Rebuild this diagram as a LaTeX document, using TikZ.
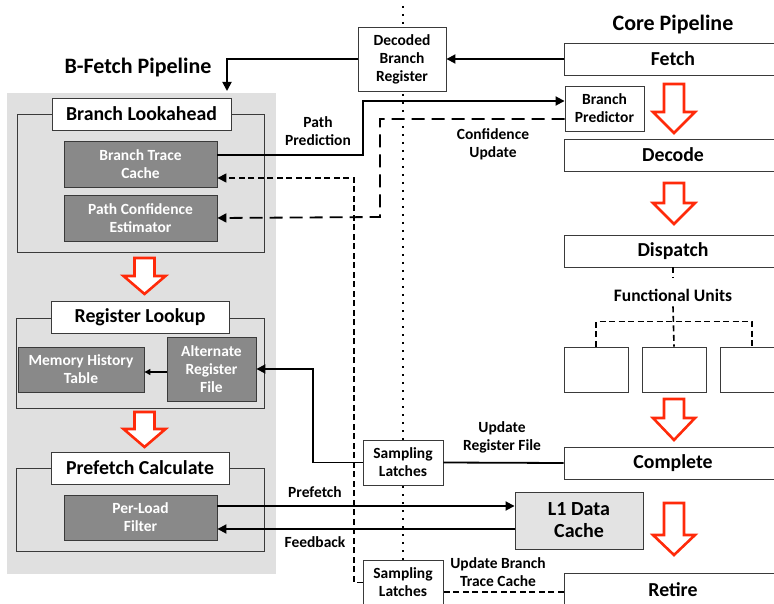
\documentclass[tikz,border=0pt]{standalone}
\usepackage{fontspec}
\setmainfont{Carlito}
\usetikzlibrary{arrows.meta,calc}

\definecolor{panelgray}{HTML}{E0E0E0}
\definecolor{darkfill}{HTML}{898989}
\definecolor{lightfill}{HTML}{E3E3E3}
\definecolor{boxline}{HTML}{3A3A3A}
\definecolor{flowred}{HTML}{FF2A0A}

% hollow block arrow: centre x, top y, head start y, tip y
\newcommand\hollowarrow[4]{%
  \draw[redarr] ({#1-10},#2) -- ({#1+10},#2) -- ({#1+10},#3) -- ({#1+21},#3)
    -- (#1,#4) -- ({#1-21},#3) -- ({#1-10},#3) -- cycle;}

\begin{document}
\begin{tikzpicture}[x=1pt,y=-1pt,
  titlefont/.style={font=\fontsize{22}{24}\selectfont\bfseries},
  bigfont/.style={font=\fontsize{19.8}{22}\selectfont\bfseries},
  midfont/.style={font=\fontsize{15.5}{18}\selectfont\bfseries},
  stagebox/.style={draw=boxline, line width=0.9pt, fill=white, inner sep=0pt,
    bigfont, text=black},
  smallbox/.style={draw=boxline, line width=0.9pt, fill=white, inner sep=0pt,
    midfont, align=center, text=black},
  frame/.style={draw=boxline, line width=0.9pt, inner sep=0pt},
  darkbox/.style={draw=boxline, line width=0.9pt, fill=darkfill, inner sep=0pt,
    midfont, align=center, text=white},
  lbl/.style={midfont, align=center, inner sep=0pt, text=black},
  conn/.style={line width=1.8pt, -{Triangle[length=9pt,width=9pt]}},
  plain/.style={line width=1.8pt},
  longdash/.style={line width=1.8pt, dash pattern=on 13pt off 7pt},
  shortdash/.style={line width=1.6pt, dash pattern=on 6pt off 3.5pt},
  redarr/.style={draw=flowred, fill=white, line width=2.6pt, line join=miter},
]
\useasboundingbox (0,0) rectangle (774,604);

% divider between the two pipelines
\draw[line width=2pt, dash pattern=on 2pt off 6pt] (403,6) -- (403,604);

% ---------------- B-Fetch pipeline ----------------
\node[titlefont] (btitle) at (138,68) {B-Fetch Pipeline};
\node[fill=panelgray, inner sep=0pt, minimum width=269, minimum height=481,
      anchor=north west] (panel) at (7,93) {};

\node[frame, minimum width=247, minimum height=138] (blframe) at (140.5,183) {};
\node[stagebox, minimum width=179, minimum height=32] (bl) at (141.5,114) {Branch Lookahead};
\node[darkbox, minimum width=153, minimum height=46] (btc) at (140.5,164) {Branch Trace\\Cache};
\node[darkbox, minimum width=153, minimum height=46] (pce) at (140.5,218) {Path Confidence\\Estimator};

\node[frame, minimum width=248, minimum height=90] (rlframe) at (140,363) {};
\node[stagebox, minimum width=178, minimum height=32] (rl) at (140,317) {Register Lookup};
\node[darkbox, minimum width=126, minimum height=45] (mht) at (81,369.5) {Memory History\\Table};
\node[darkbox, minimum width=89, minimum height=64] (arf) at (211.5,369) {Alternate\\Register\\File};

\node[frame, minimum width=248, minimum height=83] (pcframe) at (140,509.5) {};
\node[stagebox, minimum width=178, minimum height=32] (pc) at (140,468) {Prefetch Calculate};
\node[darkbox, minimum width=153, minimum height=45] (plf) at (140.5,517.5) {Per-Load\\Filter};

\hollowarrow{144.5}{258}{276}{294}
\hollowarrow{144.5}{412}{429}{447}

% ---------------- Core pipeline ----------------
\node[titlefont] (ctitle) at (673,25) {Core Pipeline};
\node[stagebox, minimum width=218, minimum height=32] (fetch) at (673,59) {Fetch};
\node[smallbox, minimum width=79, minimum height=45] (bp) at (604.5,108.5) {Branch\\Predictor};
\node[stagebox, minimum width=218, minimum height=32] (decode) at (673,155) {Decode};
\node[stagebox, minimum width=218, minimum height=32] (dispatch) at (673,251) {Dispatch};
\node[lbl, font=\fontsize{17.5}{20}\selectfont\bfseries] (fulabel) at (673,295) {Functional Units};
\node[frame, fill=white, minimum width=64, minimum height=45] (fu1) at (596,369.5) {};
\node[frame, fill=white, minimum width=64, minimum height=45] (fu2) at (674,369.5) {};
\node[frame, fill=white, minimum width=64, minimum height=45] (fu3) at (752,369.5) {};
\node[stagebox, minimum width=218, minimum height=32] (complete) at (673,463) {Complete};
\node[stagebox, fill=lightfill, align=center, minimum width=128, minimum height=57,
      font=\fontsize{20}{22}\selectfont\bfseries] (l1) at (579,520.5) {L1 Data\\Cache};
\node[stagebox, minimum width=218, minimum height=34] (retire) at (673,590) {Retire};

\hollowarrow{674}{84}{112}{133}
\hollowarrow{674}{183}{203}{224}
\hollowarrow{674}{399}{418}{440}
\hollowarrow{674}{503}{535}{555}

% dispatch fans out to the functional units
\draw[shortdash] (dispatch.south) -- ++(0,11);
\draw[shortdash] (fulabel.south) ++(0,5) -- (fu2.north);
\draw[shortdash] (fu1.north) -- ++(0,-25) -| (fu3.north);

% ---------------- interface between the pipelines ----------------
\node[smallbox, minimum width=88, minimum height=64] (dbr) at (402,59) {Decoded\\Branch\\Register};
\node[smallbox, minimum width=80, minimum height=45] (sl1) at (403,462.5) {Sampling\\Latches};
\node[smallbox, minimum width=80, minimum height=45] (sl2) at (403,582.5) {Sampling\\Latches};
\coordinate (bentry) at (227,91);

\draw[conn] (fetch.west) -- (dbr.east);
\draw[conn] (dbr.west) -| (bentry);

\draw[conn] ([yshift=9pt]btc.east) -| (363,101) -- ([yshift=7.5pt]bp.west);
\draw[longdash, -{Triangle[length=9pt,width=9pt]}]
  ([yshift=-10.5pt]bp.west) -- (380,119) -- (380,217) -- (pce.east);
\draw[shortdash, -{Triangle[length=9pt,width=9pt]}]
  (sl2.west) -- (354,582.5) -- (354,178) -- ([yshift=-14pt]btc.east);
\draw[shortdash] (retire.west |- 0,592) -- (sl2.east |- 0,592);

\draw[conn] (sl1.west) -- (313,462.5) -- (313,369) -- (arf.east);
\draw[plain] (complete.west) -- (sl1.east);
\draw[line width=1.4pt, -{Triangle[length=6pt,width=6pt]}] (arf.west |- 0,372) -- (mht.east |- 0,372);

\draw[conn] ([yshift=11.5pt]plf.east) coordinate (pfa) -- (l1.west |- pfa);
\draw[conn] ([yshift=-8.5pt]l1.west) coordinate (fba) -- (plf.east |- fba);

% connector labels
\node[lbl] (lpath) at (318,131) {Path\\Prediction};
\node[lbl] (lconf) at (493,144) {Confidence\\Update};
\node[lbl] (lurf) at (502,437) {Update\\Register File};
\node[lbl] (lpf) at (315,492) {Prefetch};
\node[lbl] (lfb) at (315,542) {Feedback};
\node[lbl] (lubt) at (498,572) {Update Branch\\Trace Cache};
\end{tikzpicture}
\end{document}
